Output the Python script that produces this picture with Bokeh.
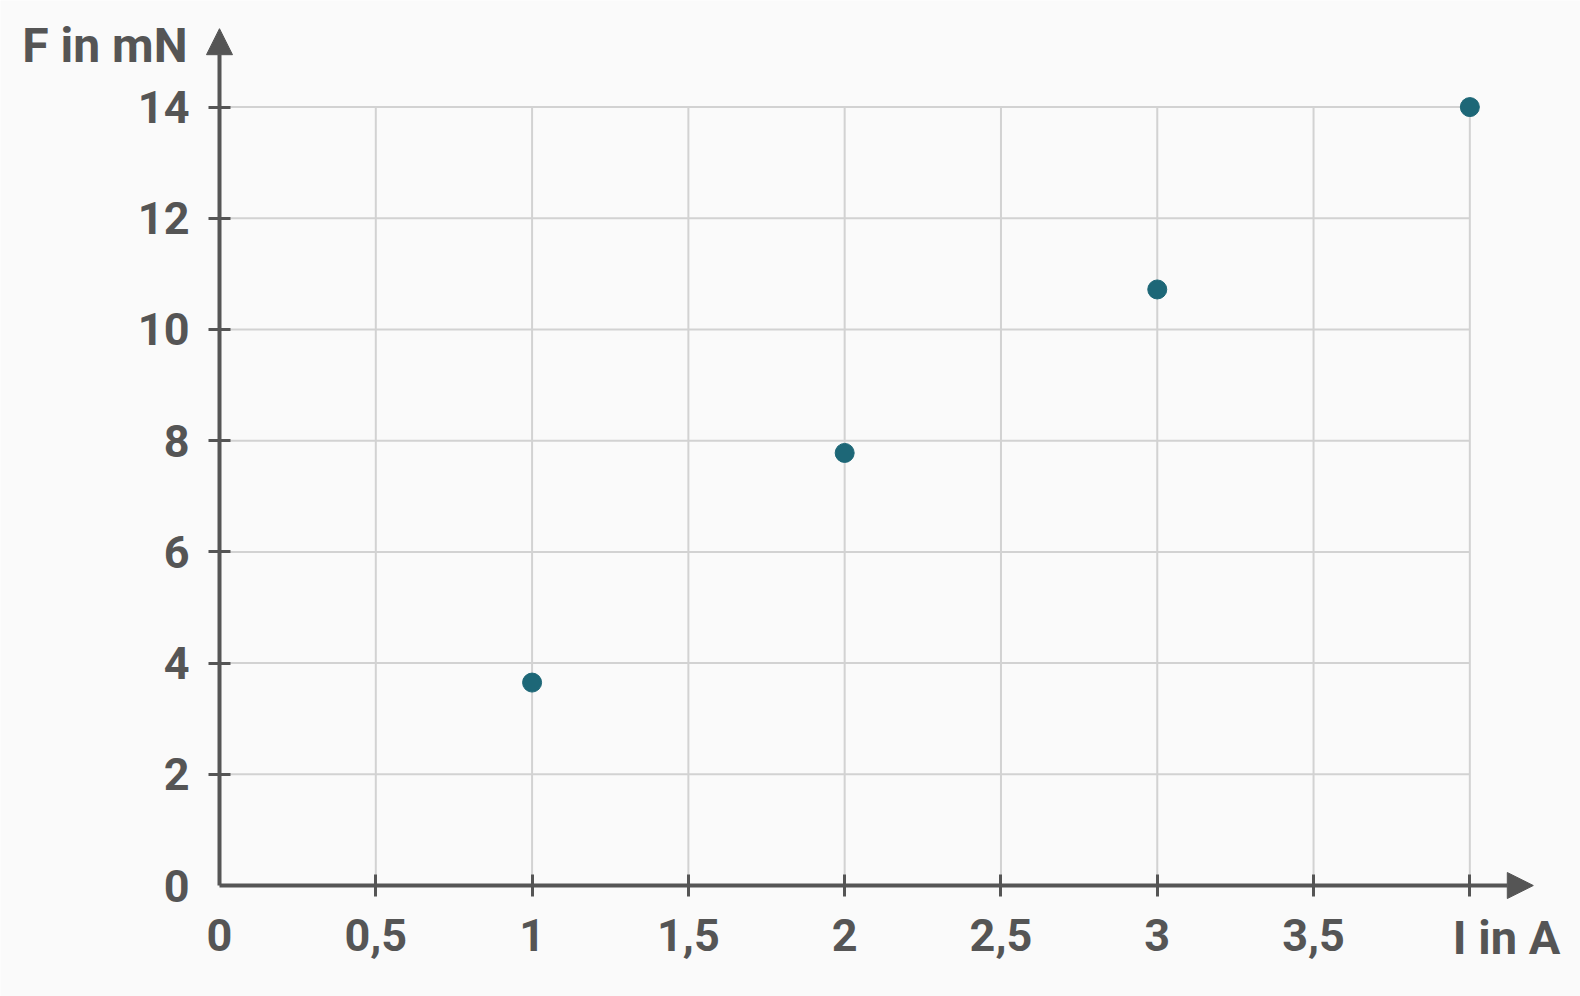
from bokeh.plotting import figure
from bokeh.models import FixedTicker, Arrow, NormalHead, Label, Range1d
from bokeh.embed import file_html
from bokeh.resources import INLINE

# data
current_A = [1, 2, 3, 4]
force_mN = [3.65, 7.78, 10.72, 14.0]

x_ticks = [0, 0.5, 1, 1.5, 2, 2.5, 3, 3.5]
x_tick_labels = ["0", "0,5", "1", "1,5", "2", "2,5", "3", "3,5"]
x_grid = [0.5, 1, 1.5, 2, 2.5, 3, 3.5, 4]
y_ticks = [0, 2, 4, 6, 8, 10, 12, 14]
y_tick_labels = ["0", "2", "4", "6", "8", "10", "12", "14"]
y_grid = [2, 4, 6, 8, 10, 12, 14]
x_title = "I in A"
y_title = "F in mN"

AX = "#555555"
GRID = "#d2d2d2"
BG = "#fafafa"
DOT = "#1d6777"
FONT = "Roboto"

x_max = max(x_grid)
y_max = max(y_grid)

p = figure(width=1580, height=996, output_backend="svg", toolbar_location=None,
           x_range=Range1d(-0.7006, 4.354), y_range=Range1d(-1.996, 15.917),
           min_border=0,
           background_fill_color=BG, border_fill_color=BG, outline_line_color=None)
p.xgrid.visible = False
p.ygrid.visible = False

# grid lines limited to data area
p.segment(x0=x_grid, y0=[0] * len(x_grid), x1=x_grid, y1=[y_max] * len(x_grid),
          line_color=GRID, line_width=2)
p.segment(x0=[0] * len(y_grid), y0=y_grid, x1=[x_max] * len(y_grid), y1=y_grid,
          line_color=GRID, line_width=2)

# axis arrows
p.add_layout(Arrow(end=NormalHead(size=26, fill_color=AX, line_color=AX, line_width=1),
                   x_start=0, y_start=0, x_end=4.203, y_end=0,
                   line_color=AX, line_width=4))
p.add_layout(Arrow(end=NormalHead(size=26, fill_color=AX, line_color=AX, line_width=1),
                   x_start=0, y_start=0, x_end=0, y_end=15.41,
                   line_color=AX, line_width=4))

# axes
for ax, ticks, minors, labels in ((p.xaxis[0], x_ticks, x_grid, x_tick_labels),
                                  (p.yaxis[0], y_ticks, y_grid, y_tick_labels)):
    ax.fixed_location = 0
    ax.ticker = FixedTicker(ticks=ticks, minor_ticks=minors)
    ax.major_label_overrides = {t: l for t, l in zip(ticks, labels)}
    ax.axis_line_color = None
    ax.major_tick_line_color = None
    ax.major_tick_in = 0
    ax.major_tick_out = 11
    ax.minor_tick_line_color = AX
    ax.minor_tick_line_width = 3
    ax.minor_tick_in = 11
    ax.minor_tick_out = 11
    ax.major_label_text_font = FONT
    ax.major_label_text_font_size = "45px"
    ax.major_label_text_font_style = "bold"
    ax.major_label_text_color = AX
p.xaxis[0].major_label_standoff = 22
p.yaxis[0].major_label_standoff = 19

# titles
p.add_layout(Label(x=x_max, y=0, x_offset=-17, y_offset=-24, text=x_title,
                   text_align="left", text_baseline="top", text_font=FONT,
                   text_font_size="47px", text_font_style="bold", text_color=AX))
p.add_layout(Label(x=0, y=y_max, x_offset=-32, y_offset=62, text=y_title,
                   text_align="right", text_baseline="alphabetic", text_font=FONT,
                   text_font_size="48px", text_font_style="bold", text_color=AX))

# data points
p.scatter(current_A, force_mN, size=19, fill_color=DOT, line_color=DOT)

open("out.html", "w").write(file_html(p, INLINE))
